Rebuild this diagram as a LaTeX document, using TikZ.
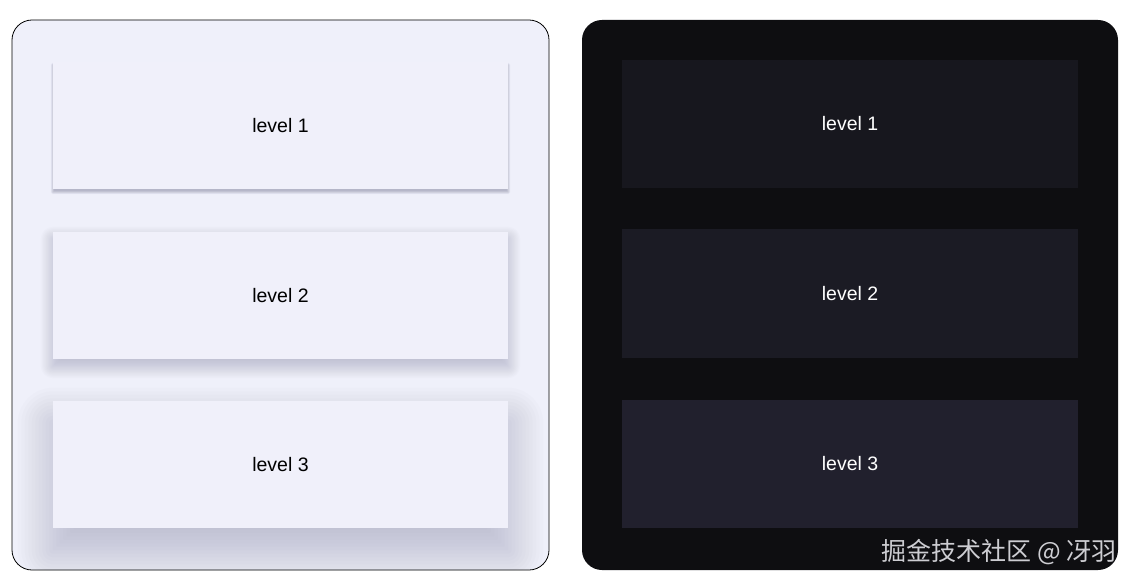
\documentclass[tikz,border=0pt]{standalone}
\usepackage{fontspec}
\setmainfont{Liberation Sans}
\newfontfamily\cjk{Noto Sans CJK SC}
\definecolor{lightbg}{RGB}{239,240,250}
\definecolor{lightbox}{RGB}{240,240,250}
\definecolor{shadowcol}{RGB}{120,120,150}
\definecolor{darkbg}{RGB}{14,14,17}
\definecolor{darkA}{RGB}{23,23,30}
\definecolor{darkB}{RGB}{27,27,36}
\definecolor{darkC}{RGB}{33,32,45}
\definecolor{markcol}{RGB}{205,205,210}
\tikzset{
  panel/.style={rounded corners=20pt},
  lbox/.style={fill=lightbox, draw=none, inner sep=0pt, minimum width=455pt, minimum height=127pt, font=\fontsize{19.5}{22}\selectfont, text=black},
  dbox/.style={draw=none, inner sep=0pt, minimum width=456pt, minimum height=128pt, font=\fontsize{19.5}{22}\selectfont, text=white},
}
% shadow macro: #1 node name, #2 dy, #3 blur, #4 peak opacity
\newcommand{\softshadow}[4]{%
  \foreach \i in {0,...,19}{%
    \pgfmathsetmacro{\rr}{#3*(0.5-\i/20)}%
    \pgfmathsetmacro{\rc}{max(\rr,0.5)}%
    \fill[shadowcol, opacity=#4/12, rounded corners=\rc pt]
      ([xshift=-\rr pt, yshift=-#2pt+\rr pt]#1.north west) rectangle
      ([xshift=\rr pt, yshift=-#2pt-\rr pt]#1.south east);
  }%
}
\begin{document}
\begin{tikzpicture}[x=1pt,y=-1pt]
\useasboundingbox (0,0) rectangle (1134,585);
\fill[white] (0,0) rectangle (1134,585);
% left panel
\fill[lightbg, panel] (12,20) rectangle (549,570);
\begin{scope}
\clip[panel] (12,20) rectangle (549,570);
\path (280.5,125.5) node[lbox, fill=none] (s1) {};
\path (280.5,295.5) node[lbox, fill=none] (s2) {};
\path (280.5,464.5) node[lbox, fill=none] (s3) {};
\softshadow{s1}{3}{4}{0.32}
\softshadow{s2}{7}{24}{0.28}
\softshadow{s3}{22}{70}{0.30}
\end{scope}
\node[lbox] (l1) at (280.5,125.5) {level 1};
\node[lbox] (l2) at (280.5,295.5) {level 2};
\node[lbox] (l3) at (280.5,464.5) {level 3};
\draw[black, line width=0.8pt, panel] (12,20) rectangle (549,570);
% right panel
\fill[darkbg, panel] (582,20) rectangle (1118,570);
\node[dbox, fill=darkA] (d1) at (850,124) {level 1};
\node[dbox, fill=darkB] (d2) at (850,293.5) {level 2};
\node[dbox, fill=darkC] (d3) at (850,463.5) {level 3};
% watermark
\node[anchor=base east, inner sep=0pt, text=markcol, font=\cjk\fontsize{25}{28}\selectfont] (wm) at (1117,560) {掘金技术社区 @ 冴羽};
\end{tikzpicture}
\end{document}
